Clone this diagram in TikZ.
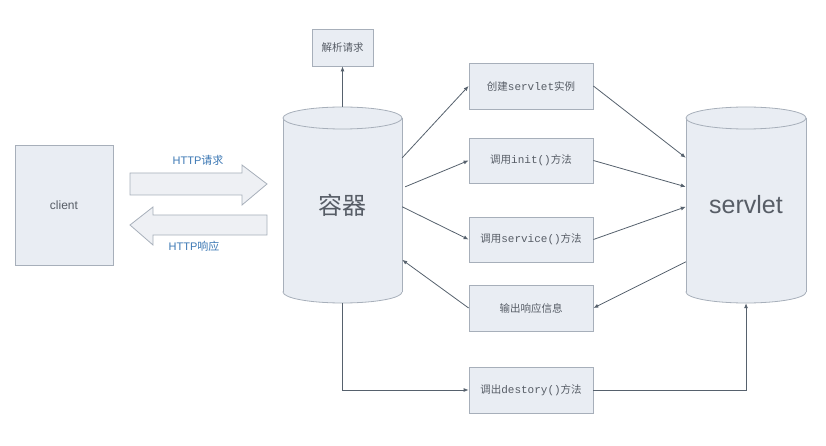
\documentclass[tikz,border=0pt]{standalone}
\usepackage{fontspec}
\setmainfont{Liberation Sans}
\setmonofont{Liberation Mono}
\newfontfamily\cjk{Noto Sans CJK SC}
\usetikzlibrary{arrows.meta,calc}
\definecolor{boxfill}{HTML}{E9EDF3}
\definecolor{boxline}{HTML}{A7AFBA}
\definecolor{arrfill}{HTML}{EEF0F4}
\definecolor{conncol}{HTML}{56616D}
\definecolor{txt}{HTML}{575D66}
\definecolor{httpblue}{HTML}{3C78B4}
\newcommand\mtt[1]{{\ttfamily\fontsize{11}{12}\selectfont #1}}
\begin{document}
\begin{tikzpicture}[x=1pt,y=-1pt,
  box/.style={draw=boxline, fill=boxfill, line width=0.8pt, minimum width=124pt, minimum height=46pt,
    inner sep=0pt, text=txt, font=\cjk\fontsize{10.5}{12}\selectfont},
  conn/.style={draw=conncol, line width=0.8pt, -{Latex[length=5pt,width=4pt]}},
  cylbody/.style={fill=boxfill, draw=none},
  cylline/.style={draw=boxline, line width=0.8pt},
  bigarrow/.style={fill=arrfill, draw=boxline, line width=0.8pt},
  httplabel/.style={text=httpblue, font=\fontsize{11}{13}\selectfont},
  cyllabel/.style={text=txt, inner sep=0pt}]
\useasboundingbox (0,0) rectangle (826,446);

% client
\node[box, minimum width=98pt, minimum height=120pt, font=\fontsize{12}{14}\selectfont] (client) at (64,205) {client};

% block arrows
\draw[bigarrow] (130,173) -- (242,173) -- (242,165) -- (267,184) -- (242,205) -- (242,195) -- (130,195) -- cycle;
\draw[bigarrow] (267,215) -- (153,215) -- (153,207) -- (130,225) -- (153,245) -- (153,235) -- (267,235) -- cycle;
\node[httplabel] (req) at (198,160) {HTTP{\cjk 请求}};
\node[httplabel] (resp) at (194,246) {HTTP{\cjk 响应}};

% container cylinder
\fill[cylbody] (283,118) rectangle (402,292);
\filldraw[cylbody, cylline] (342.5,292) ellipse [x radius=59.5, y radius=11];
\fill[cylbody] (283,118) rectangle (402,292);
\draw[cylline] (283,118) -- (283,292) (402,118) -- (402,292);
\filldraw[cylbody, cylline] (342.5,118) ellipse [x radius=59.5, y radius=11];
\node[cyllabel, minimum width=119pt, minimum height=196pt, font=\cjk\fontsize{24}{28}\selectfont] (cont) at (342.5,205) {容器};

% servlet cylinder
\fill[cylbody] (686,118) rectangle (806,292);
\filldraw[cylbody, cylline] (746,292) ellipse [x radius=60, y radius=11];
\fill[cylbody] (686,118) rectangle (806,292);
\draw[cylline] (686,118) -- (686,292) (806,118) -- (806,292);
\filldraw[cylbody, cylline] (746,118) ellipse [x radius=60, y radius=11];
\node[cyllabel, minimum width=120pt, minimum height=196pt, font=\fontsize{25}{28}\selectfont] (srv) at (746,205) {servlet};

% boxes
\node[box, minimum width=61pt, minimum height=37pt] (parse) at (342.5,47.5) {解析请求};
\node[box] (b1) at (531,86) {创建\mtt{servlet}实例};
\node[box, minimum height=45pt] (b2) at (531,160.5) {调用\mtt{init()}方法};
\node[box, minimum height=45pt] (b3) at (531,239.5) {调用\mtt{service()}方法};
\node[box] (b4) at (531,308) {输出响应信息};
\node[box] (b5) at (531,390) {调出\mtt{destory()}方法};

% connectors
\draw[conn] (cont.north) -- (parse.south);
\draw[conn] ($(cont.north east)+(0,51)$) -- (b1.west);
\draw[conn] ($(cont.north east)+(3,80)$) -- (b2.west);
\draw[conn] ($(cont.north east)+(0,100)$) -- (b3.west);
\draw[conn] (b4.west) -- ($(cont.north east)+(0,153)$);
\draw[conn] (b1.east) -- ($(srv.north west)+(0,51)$);
\draw[conn] (b2.east) -- ($(srv.north west)+(0,80)$);
\draw[conn] (b3.east) -- ($(srv.north west)+(0,100)$);
\draw[conn] ($(srv.north west)+(0,155)$) -- (b4.east);
\draw[conn] (cont.south) |- (b5.west);
\draw[conn] (b5.east) -| (srv.south);
\end{tikzpicture}
\end{document}
